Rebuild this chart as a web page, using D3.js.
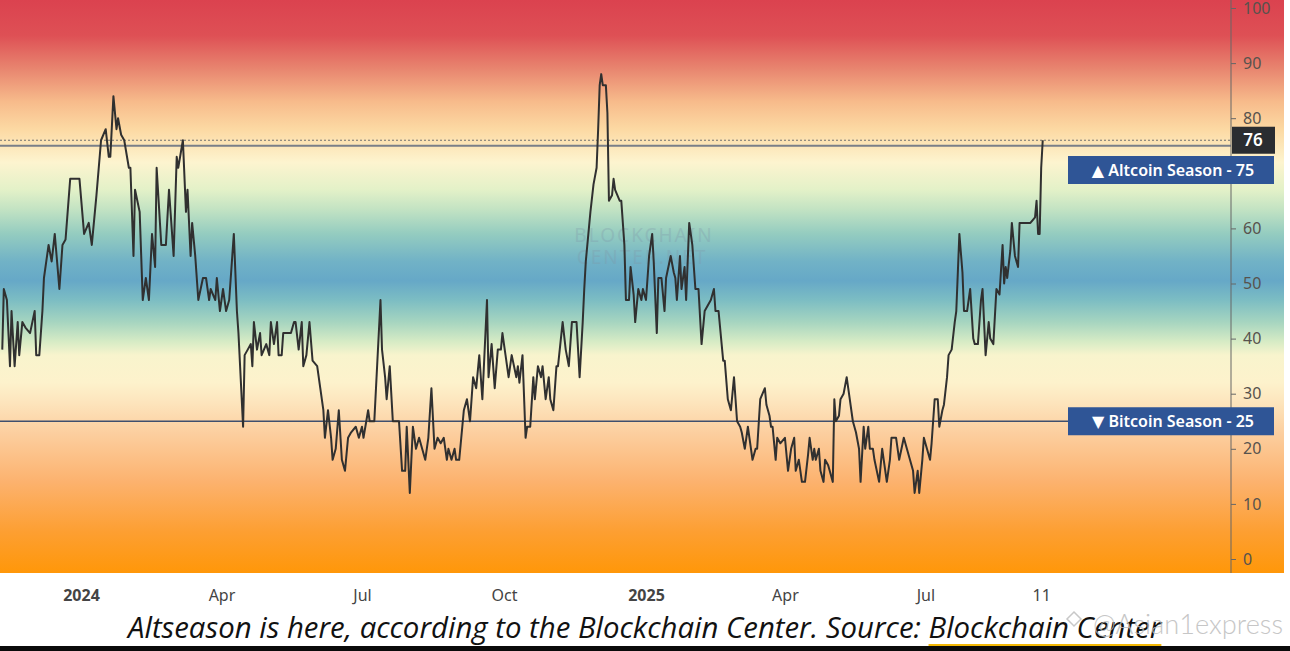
<!DOCTYPE html>
<html>
<head>
<meta charset="utf-8">
<script src="https://cdn.jsdelivr.net/npm/d3@7"></script>
<style>
  body { margin: 0; background: #fff; }
  svg { display: block; }
</style>
</head>
<body>
<svg width="1290" height="651"></svg>
<script>
// altcoin season index (one line per month)
const dates = [
  "2023-11-11","2023-11-12","2023-11-14","2023-11-16","2023-11-17","2023-11-19","2023-11-21","2023-11-22","2023-11-24","2023-11-26","2023-11-29",
  "2023-12-02","2023-12-03","2023-12-05","2023-12-07","2023-12-08","2023-12-11","2023-12-13","2023-12-15","2023-12-18","2023-12-20","2023-12-22","2023-12-25","2023-12-31",
  "2024-01-03","2024-01-06","2024-01-08","2024-01-11","2024-01-14","2024-01-17","2024-01-19","2024-01-20","2024-01-22","2024-01-24","2024-01-25","2024-01-27","2024-01-29",
  "2024-02-01","2024-02-02","2024-02-04","2024-02-05","2024-02-08","2024-02-10","2024-02-12","2024-02-14","2024-02-16","2024-02-18","2024-02-19","2024-02-22","2024-02-25","2024-02-27",
  "2024-03-01","2024-03-03","2024-03-04","2024-03-07","2024-03-09","2024-03-10","2024-03-12","2024-03-13","2024-03-15","2024-03-17","2024-03-20","2024-03-22","2024-03-24","2024-03-25","2024-03-28","2024-03-29","2024-03-31",
  "2024-04-02","2024-04-03","2024-04-04","2024-04-06","2024-04-09","2024-04-11","2024-04-12","2024-04-15","2024-04-16","2024-04-18","2024-04-20","2024-04-21","2024-04-22","2024-04-24","2024-04-26","2024-04-27","2024-04-30",
  "2024-05-02","2024-05-03","2024-05-05","2024-05-07","2024-05-08","2024-05-10","2024-05-11","2024-05-16","2024-05-18","2024-05-19","2024-05-21","2024-05-23","2024-05-24","2024-05-26","2024-05-28","2024-05-30",
  "2024-06-02","2024-06-04","2024-06-06","2024-06-07","2024-06-09","2024-06-11","2024-06-12","2024-06-14","2024-06-16","2024-06-18","2024-06-20","2024-06-22","2024-06-24","2024-06-27","2024-06-29",
  "2024-07-01","2024-07-02","2024-07-05","2024-07-06","2024-07-09","2024-07-13","2024-07-14","2024-07-16","2024-07-17","2024-07-19","2024-07-21","2024-07-25","2024-07-27","2024-07-29","2024-07-30",
  "2024-08-01","2024-08-02","2024-08-03","2024-08-05","2024-08-07","2024-08-09","2024-08-11","2024-08-13","2024-08-15","2024-08-17","2024-08-19","2024-08-21","2024-08-23","2024-08-25","2024-08-26","2024-08-28","2024-08-30","2024-08-31",
  "2024-09-02","2024-09-05","2024-09-07","2024-09-09","2024-09-11","2024-09-13","2024-09-15","2024-09-17","2024-09-20","2024-09-21","2024-09-23","2024-09-25","2024-09-27","2024-09-29","2024-09-30",
  "2024-10-02","2024-10-04","2024-10-06","2024-10-09","2024-10-10","2024-10-11","2024-10-13","2024-10-15","2024-10-16","2024-10-18","2024-10-20","2024-10-21","2024-10-23","2024-10-25","2024-10-26","2024-10-28","2024-10-30","2024-10-31",
  "2024-11-02","2024-11-04","2024-11-05","2024-11-08","2024-11-10","2024-11-12","2024-11-14","2024-11-17","2024-11-19","2024-11-21","2024-11-22","2024-11-23","2024-11-25","2024-11-26","2024-11-28","2024-11-30",
  "2024-12-01","2024-12-02","2024-12-03","2024-12-04","2024-12-06","2024-12-07","2024-12-08","2024-12-10","2024-12-11","2024-12-12","2024-12-15","2024-12-16","2024-12-18","2024-12-19","2024-12-21","2024-12-22","2024-12-24","2024-12-25","2024-12-27","2024-12-29","2024-12-30",
  "2025-01-01","2025-01-03","2025-01-05","2025-01-06","2025-01-08","2025-01-09","2025-01-11","2025-01-13","2025-01-14","2025-01-17","2025-01-19","2025-01-20","2025-01-21","2025-01-23","2025-01-24","2025-01-26","2025-01-27","2025-01-29","2025-01-31",
  "2025-02-02","2025-02-04","2025-02-06","2025-02-08","2025-02-10","2025-02-12","2025-02-14","2025-02-15","2025-02-17","2025-02-20","2025-02-21","2025-02-23","2025-02-25","2025-02-27","2025-02-28",
  "2025-03-01","2025-03-03","2025-03-04","2025-03-06","2025-03-08","2025-03-09","2025-03-11","2025-03-13","2025-03-14","2025-03-16","2025-03-19","2025-03-20","2025-03-22","2025-03-23","2025-03-24","2025-03-26","2025-03-27","2025-03-29",
  "2025-04-01","2025-04-03","2025-04-05","2025-04-07","2025-04-08","2025-04-10","2025-04-12","2025-04-14","2025-04-16","2025-04-17","2025-04-19","2025-04-20","2025-04-21","2025-04-23","2025-04-24","2025-04-26","2025-04-27","2025-04-29","2025-04-30",
  "2025-05-02","2025-05-03","2025-05-04","2025-05-06","2025-05-07","2025-05-09","2025-05-11","2025-05-12","2025-05-15","2025-05-17","2025-05-19","2025-05-20","2025-05-22","2025-05-23","2025-05-25","2025-05-26","2025-05-28","2025-05-29",
  "2025-06-01","2025-06-03","2025-06-04","2025-06-06","2025-06-08","2025-06-09","2025-06-12","2025-06-14","2025-06-17","2025-06-19","2025-06-21","2025-06-23","2025-06-24","2025-06-26","2025-06-27","2025-06-29","2025-06-30",
  "2025-07-02","2025-07-04","2025-07-05","2025-07-07","2025-07-09","2025-07-10","2025-07-12","2025-07-13","2025-07-15","2025-07-16","2025-07-18","2025-07-20","2025-07-21","2025-07-23","2025-07-25","2025-07-26","2025-07-28","2025-07-30",
  "2025-08-01","2025-08-02","2025-08-04","2025-08-06","2025-08-07","2025-08-09","2025-08-11","2025-08-12","2025-08-14","2025-08-16","2025-08-18","2025-08-20","2025-08-21","2025-08-22","2025-08-23","2025-08-25","2025-08-26","2025-08-28","2025-08-30","2025-08-31",
  "2025-09-03","2025-09-07","2025-09-10","2025-09-11","2025-09-12","2025-09-13","2025-09-14","2025-09-15"
];

const values = [
  38,49,47,35,45,35,43,37,43,42,41,
  45,37,37,45,51,57,54,59,49,57,58,69,69,
  59,61,57,66,76,78,73,73,84,78,80,77,76,
  71,71,55,67,63,47,51,47,59,53,71,57,57,67,
  55,73,71,76,63,67,55,61,55,47,51,51,47,49,47,51,45,
  49,47,45,47,59,45,41,24,37,38,39,35,43,38,41,37,39,
  37,43,39,43,37,37,41,41,43,43,38,43,35,37,43,36,
  35,31,27,22,27,22,18,20,27,18,16,22,23,24,22,
  24,22,27,25,25,47,38,33,29,35,25,25,16,16,24,
  12,18,24,20,22,20,18,22,31,20,22,21,22,18,20,18,20,18,
  18,27,29,25,33,31,37,29,47,33,39,31,38,38,41,
  37,33,37,33,35,32,37,22,24,24,33,29,35,33,35,29,33,29,
  27,35,35,43,38,35,43,43,33,43,49,54,60,63,68,71,
  78,86,88,86,86,81,65,66,69,67,65,65,57,47,47,53,48,43,49,47,49,
  47,55,59,54,41,51,51,45,51,55,52,51,47,55,49,53,47,61,57,
  49,49,39,45,46,47,49,45,45,36,36,29,27,33,29,
  25,24,23,20,24,22,18,20,20,29,31,28,26,24,24,18,22,21,
  22,16,20,22,16,18,14,14,19,22,18,20,18,20,16,14,18,17,16,
  14,29,25,26,29,30,33,31,25,23,20,14,24,20,24,20,20,18,
  14,20,18,14,18,22,22,18,22,20,18,16,12,16,12,18,22,
  20,18,21,29,29,24,27,28,33,37,38,43,45,59,52,45,45,49,
  40,39,39,47,49,37,43,40,39,49,48,57,50,53,51,56,61,55,53,61,
  61,61,62,65,59,59,71,76
];

// x axis ticks as printed
const tickDates = ["2024-01-01","2024-04-01","2024-07-01","2024-10-01","2025-01-01","2025-04-01","2025-07-01","2025-09-14"];
const tickLabels = ["2024","Apr","Jul","Oct","2025","Apr","Jul","11"];
const yTicks = [0,10,20,30,40,50,60,70,80,90,100];

// levels
const altcoinLevel = 75;
const bitcoinLevel = 25;
const lastValue = values[values.length - 1];

// background colour bands (index value -> colour)
const bandValues = [101.5, 95, 89, 83, 78, 72, 67, 63.5, 59, 54, 50.5, 47, 43, 39.5, 37, 32, 28.5, 23, 14, 5, -2.5];
const bandColors = ["#db424f","#de5055","#e8856f","#f7bb8b","#fcd9a3","#fdf4cf","#e3f1c8","#c3e3c3","#94ccc0","#71b2c6","#66a8c7","#7cbdc3","#a6d5c0","#d6ebc5","#f8f4cd","#fdf2cc","#fde5bd","#fccfa0","#fcb26e","#fd9f32","#ff9709"];

const svg = d3.select("svg");
const parse = d3.timeParse("%Y-%m-%d");
const font = "'Noto Sans', 'DejaVu Sans', sans-serif";

const plotRight = 1231;
const plotBottom = 573;

// scales: anchored on the two year ticks, the rest extends linearly
const x = d3.scaleTime()
  .domain([parse("2024-01-01"), parse("2025-01-01")])
  .range([81, 646]);
const y = d3.scaleLinear().domain([0, 100]).range([559, 8]);

// gradient background
const defs = svg.append("defs");
const grad = defs.append("linearGradient")
  .attr("id", "bg")
  .attr("gradientUnits", "userSpaceOnUse")
  .attr("x1", 0).attr("x2", 0)
  .attr("y1", y(bandValues[0]))
  .attr("y2", y(bandValues[bandValues.length - 1]));
const yTop = y(bandValues[0]), ySpan = y(bandValues[bandValues.length - 1]) - yTop;
grad.selectAll("stop")
  .data(bandValues)
  .enter()
  .append("stop")
  .attr("offset", d => (y(d) - yTop) / ySpan)
  .attr("stop-color", (d, i) => bandColors[i]);

svg.append("rect")
  .attr("x", 0).attr("y", 0)
  .attr("width", 1284).attr("height", plotBottom)
  .attr("fill", "url(#bg)");

// faint watermark in the middle
const wm = svg.append("g")
  .attr("fill", "#7f97a8")
  .attr("opacity", 0.3)
  .style("font-family", font)
  .style("font-size", "19px")
  .style("letter-spacing", "2px")
  .attr("text-anchor", "middle");
wm.append("text").attr("x", 644).attr("y", 242).text("BLOCKCHAIN");
wm.append("text").attr("x", 642).attr("y", 264).text("CENTER.NET");

// level lines
svg.append("line")
  .attr("x1", 0).attr("x2", plotRight)
  .attr("y1", y(lastValue)).attr("y2", y(lastValue))
  .attr("stroke", "#707070")
  .attr("stroke-width", 1)
  .attr("stroke-dasharray", "2,2");

svg.append("line")
  .attr("x1", 0).attr("x2", plotRight)
  .attr("y1", y(altcoinLevel)).attr("y2", y(altcoinLevel))
  .attr("stroke", "#7a7f88")
  .attr("stroke-width", 2);

svg.append("line")
  .attr("x1", 0).attr("x2", plotRight)
  .attr("y1", y(bitcoinLevel)).attr("y2", y(bitcoinLevel))
  .attr("stroke", "#3e4f6e")
  .attr("stroke-width", 1.5);

// index line
const n = Math.min(dates.length, values.length);
const series = d3.range(n).map(i => ({ date: parse(dates[i]), value: values[i] }));

svg.append("path")
  .datum(series)
  .attr("fill", "none")
  .attr("stroke", "#303030")
  .attr("stroke-width", 2)
  .attr("stroke-linejoin", "round")
  .attr("d", d3.line().x(d => x(d.date)).y(d => y(d.value)));

// bottom axis
const gx = svg.append("g")
  .attr("transform", "translate(0," + plotBottom + ")")
  .call(d3.axisBottom(x)
    .tickValues(tickDates.map(parse))
    .tickFormat((d, i) => tickLabels[i])
    .tickSize(0)
    .tickPadding(17));
gx.select(".domain").remove();
gx.selectAll("text")
  .attr("fill", "#444")
  .style("font-family", font)
  .style("font-size", "16px")
  .style("font-weight", (d, i) => tickLabels[i].length === 4 ? "bold" : "normal");

// right axis
svg.append("line")
  .attr("x1", plotRight).attr("x2", plotRight)
  .attr("y1", 0).attr("y2", plotBottom)
  .attr("stroke", "#666")
  .attr("stroke-width", 1);

const gy = svg.append("g")
  .attr("transform", "translate(" + plotRight + ",0)")
  .call(d3.axisRight(y).tickValues(yTicks).tickSize(5).tickPadding(7));
gy.select(".domain").remove();
gy.selectAll("line").attr("stroke", "#666");
gy.selectAll("text")
  .attr("fill", "#57524d")
  .style("font-family", font)
  .style("font-size", "16px");

// current value box
svg.append("rect")
  .attr("x", plotRight + 1).attr("y", y(lastValue) - 13.5)
  .attr("width", 43).attr("height", 27)
  .attr("fill", "#2a2d31");
svg.append("text")
  .attr("x", plotRight + 22).attr("y", y(lastValue))
  .attr("dy", "0.36em")
  .attr("text-anchor", "middle")
  .attr("fill", "#fff")
  .style("font-family", font)
  .style("font-size", "17px")
  .style("font-weight", "600")
  .text(lastValue);

// season labels
function seasonLabel(cy, label) {
  svg.append("rect")
    .attr("x", 1068).attr("y", cy - 14)
    .attr("width", 206).attr("height", 28)
    .attr("fill", "#2f5596");
  svg.append("text")
    .attr("x", 1173).attr("y", cy)
    .attr("dy", "0.36em")
    .attr("text-anchor", "middle")
    .attr("fill", "#fff")
    .style("font-family", font)
    .style("font-size", "16px")
    .style("font-weight", "600")
    .text(label);
}
seasonLabel(170, "\u25B2 Altcoin Season - " + altcoinLevel);
seasonLabel(y(bitcoinLevel), "\u25BC Bitcoin Season - " + bitcoinLevel);

// caption under the chart
const captionText = "Altseason is here, according to the Blockchain Center. Source: Blockchain Center";
const caption = svg.append("text")
  .attr("x", 128).attr("y", 638)
  .attr("fill", "#111")
  .style("font-family", "'Open Sans', 'Noto Sans', sans-serif")
  .style("font-style", "italic")
  .style("font-size", "25px")
  .text(captionText);
const cw = caption.node().getComputedTextLength();
caption.style("font-size", (25 * 1034 / cw) + "px");

const srcIdx = captionText.lastIndexOf("Blockchain Center");
const ux0 = caption.node().getStartPositionOfChar(srcIdx).x;
const ux1 = caption.node().getEndPositionOfChar(captionText.length - 1).x;
svg.append("line")
  .attr("x1", ux0).attr("x2", ux1)
  .attr("y1", 645).attr("y2", 645)
  .attr("stroke", "#f2b705")
  .attr("stroke-width", 2);

// watermark bottom right
const mark = svg.append("text")
  .attr("x", 1093).attr("y", 634)
  .attr("fill", "#bdbdbd")
  .attr("opacity", 0.85)
  .style("font-family", "Lato, 'Noto Sans', sans-serif")
  .style("font-size", "24px")
  .style("font-weight", "300")
  .text("@Asian1express");
const mw = mark.node().getComputedTextLength();
mark.style("font-size", (24 * 190 / mw) + "px");
svg.append("path")
  .attr("d", "M1074,612 l7,7 l-7,7 l-7,-7 Z")
  .attr("fill", "none")
  .attr("stroke", "#c8c8c8")
  .attr("stroke-width", 1.5);

// dark strip at the very bottom
svg.append("rect")
  .attr("x", 0).attr("y", 646)
  .attr("width", 1290).attr("height", 5)
  .attr("fill", "#0a0a0a");
</script>
</body>
</html>
